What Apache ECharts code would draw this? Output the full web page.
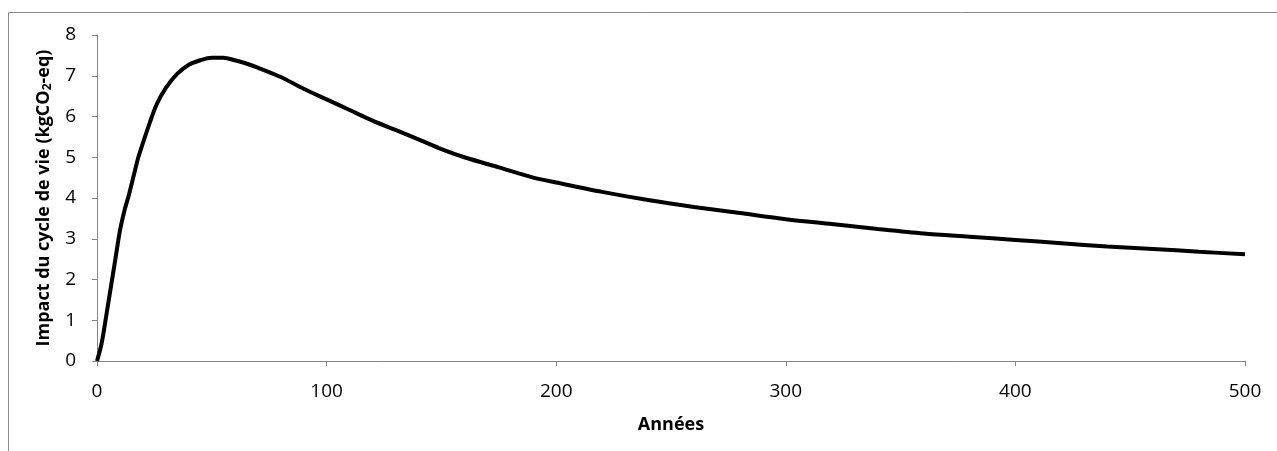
<!DOCTYPE html>
<html>
<head>
<meta charset="utf-8">
<script src="https://cdn.jsdelivr.net/npm/echarts@6/dist/echarts.min.js"></script>
<style>
html,body{margin:0;padding:0;background:#fff;}
#chart{width:1277px;height:451px;}
</style>
</head>
<body>
<div id="chart"></div>
<script>
// Years (x) and life-cycle impact (kgCO2-eq)
const years = [0, 2, 4, 6, 8, 10, 12, 14, 16, 18, 20, 23, 26, 30, 35, 40, 45, 50, 55, 60, 65, 70, 80, 90, 100, 110, 120, 130, 140, 150, 160, 175, 190, 200, 220, 240, 260, 280, 300, 320, 340, 360, 380, 400, 420, 440, 460, 480, 500];
const impact = [0, 0.43, 1.1, 1.8, 2.5, 3.2, 3.7, 4.1, 4.55, 5.0, 5.35, 5.85, 6.3, 6.7, 7.05, 7.27, 7.38, 7.44, 7.44, 7.38, 7.3, 7.2, 6.97, 6.68, 6.42, 6.16, 5.9, 5.67, 5.44, 5.2, 5.0, 4.75, 4.5, 4.38, 4.15, 3.95, 3.78, 3.63, 3.48, 3.36, 3.24, 3.13, 3.05, 2.97, 2.89, 2.81, 2.75, 2.68, 2.62];
const xTicks = [0, 100, 200, 300, 400, 500];
const yTicks = [0, 1, 2, 3, 4, 5, 6, 7, 8];

const points = years.map((y, i) => [y, impact[i]]);
const chart = echarts.init(document.getElementById('chart'), null, {renderer: 'canvas'});
const FONT = '"Open Sans", "Liberation Sans", sans-serif';
const axisGray = '#868686';

chart.setOption({
  animation: false,
  backgroundColor: '#fff',
  graphic: [{
    type: 'rect',
    shape: {x: 8.5, y: 12.5, width: 1400, height: 600},
    style: {fill: 'none', stroke: '#8c8c8c', lineWidth: 1},
    silent: true, z: -1
  }],
  grid: {left: 97, top: 35, right: 32, bottom: 90},
  xAxis: {
    type: 'value',
    min: xTicks[0], max: xTicks[xTicks.length - 1], interval: 100,
    name: 'Années',
    nameLocation: 'middle',
    nameGap: 55,
    nameTextStyle: {fontFamily: FONT, fontSize: 18, fontWeight: 'bold', color: '#000'},
    axisLine: {lineStyle: {color: axisGray, width: 1}},
    axisTick: {show: true, length: 5, lineStyle: {color: axisGray}},
    axisLabel: {fontFamily: FONT, fontSize: 19, color: '#000', margin: 21},
    splitLine: {show: false}
  },
  yAxis: {
    type: 'value',
    min: yTicks[0], max: yTicks[yTicks.length - 1], interval: 1,
    name: 'Impact du cycle de vie (kgCO{sub|2}-eq)',
    nameLocation: 'middle',
    nameRotate: 90,
    nameGap: 43,
    nameTextStyle: {
      fontFamily: FONT, fontSize: 18, fontWeight: 'bold', color: '#000',
      rich: {sub: {fontFamily: FONT, fontSize: 12, fontWeight: 'bold', color: '#000', verticalAlign: 'bottom', padding: [9, 0, 0, 0]}}
    },
    axisLine: {show: true, lineStyle: {color: axisGray, width: 1}},
    axisTick: {show: true, length: 5, lineStyle: {color: axisGray}},
    axisLabel: {fontFamily: FONT, fontSize: 19, color: '#000', margin: 21},
    splitLine: {show: false}
  },
  series: [{
    type: 'line',
    data: points,
    showSymbol: false,
    smooth: 0.3,
    lineStyle: {color: '#000', width: 4},
    itemStyle: {color: '#000'}
  }]
});
</script>
</body>
</html>
